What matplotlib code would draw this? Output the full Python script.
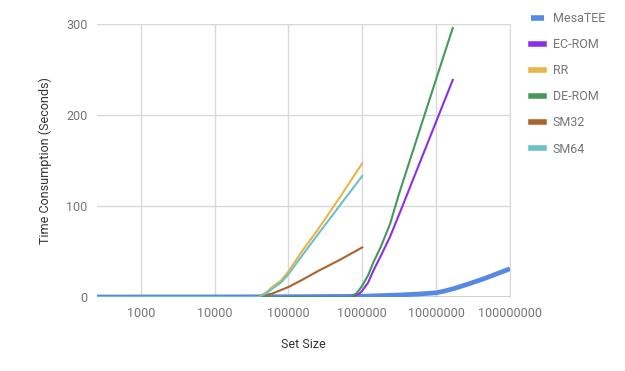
import matplotlib.pyplot as plt

plt.rcParams["font.family"] = ["Roboto", "DejaVu Sans"]

# set sizes (x) and time consumption in seconds
mesa_x = [256, 10000, 100000, 1000000, 3200000, 5600000, 10000000, 12600000,
          17000000, 25700000, 44000000, 100000000]
mesa_y = [0, 0.1, 0.3, 0.8, 2.2, 3.2, 4.6, 6.3, 9, 13.6, 20, 31]

ec_x = [256, 708000, 851000, 933000, 1000000, 1202000, 1413000, 1778000,
        2371000, 3388000, 16790000]
ec_y = [0, 0, 2.5, 4.5, 7, 16, 29, 45, 66, 97, 238.5]

rr_x = [256, 38900, 50100, 60300, 79400, 100000, 155000, 245000, 501000, 1000000]
rr_y = [0, 0, 5, 11, 18, 28, 51, 73, 110, 147]

de_x = [256, 692000, 832000, 912000, 1000000, 1202000, 1413000, 1778000,
        2371000, 3162000, 10000000, 16790000]
de_y = [0, 0, 4, 8, 12.5, 24, 38, 55, 80, 114, 239.5, 295.6]

sm32_x = [256, 35500, 60300, 100000, 155000, 245000, 501000, 1000000]
sm32_y = [0, 0, 3.7, 11, 19, 28, 41, 54.5]

sm64_x = [256, 38900, 50100, 60300, 79400, 100000, 155000, 245000, 501000, 1000000]
sm64_y = [0, 0, 4, 9, 16, 25, 46, 67.7, 101, 133]

x_ticks = [1000, 10000, 100000, 1000000, 10000000, 100000000]
y_ticks = [0, 100, 200, 300]

fig = plt.figure(figsize=(6.25, 3.71), dpi=100)
ax = fig.add_axes([97 / 625, 1 - 297 / 371, 413 / 625, 273 / 371])

ax.plot(mesa_x, mesa_y, color="#5689e6", lw=3.4, label="MesaTEE", zorder=3,
        solid_capstyle="butt")
ax.plot(ec_x, ec_y, color="#8b30ea", lw=1.5, label="EC-ROM", zorder=4)
ax.plot(rr_x, rr_y, color="#ebb446", lw=1.5, label="RR", zorder=4)
ax.plot(de_x, de_y, color="#46985c", lw=1.5, label="DE-ROM", zorder=4)
ax.plot(sm32_x, sm32_y, color="#ab6429", lw=1.5, label="SM32", zorder=4)
ax.plot(sm64_x, sm64_y, color="#6cc0c8", lw=1.5, label="SM64", zorder=4)

# dark baseline at zero
ax.axhline(0, color="#333333", lw=1, zorder=2)

ax.set_xscale("log")
ax.set_xlim(256, 100000000)
ax.set_ylim(0, 300)
ax.set_xticks(x_ticks)
ax.set_xticklabels([str(t) for t in x_ticks])
ax.minorticks_off()
ax.set_yticks(y_ticks)
ax.grid(True, color="#d9d9d9", lw=1)
ax.set_axisbelow(True)
for s in ["top", "left", "bottom"]:
    ax.spines[s].set_visible(False)
ax.spines["right"].set_color("#d9d9d9")
ax.tick_params(length=0, labelsize=9, colors="#757575", pad=7)

ax.set_xlabel("Set Size", fontsize=9, color="#333333", labelpad=13)
ax.set_ylabel("Time Consumption (Seconds)", fontsize=9, color="#333333", labelpad=10)

leg = ax.legend(loc="upper left", bbox_to_anchor=(531 / 625, 1 - 12 / 371),
                bbox_transform=fig.transFigure, frameon=False, fontsize=9,
                handlelength=1.0, handleheight=0.7, handletextpad=0.75,
                labelspacing=1.05, borderaxespad=0, borderpad=0)
for h in leg.get_lines():
    h.set_linewidth(4)
for t in leg.get_texts():
    t.set_color("#757575")

plt.savefig("out.png", dpi=100)
